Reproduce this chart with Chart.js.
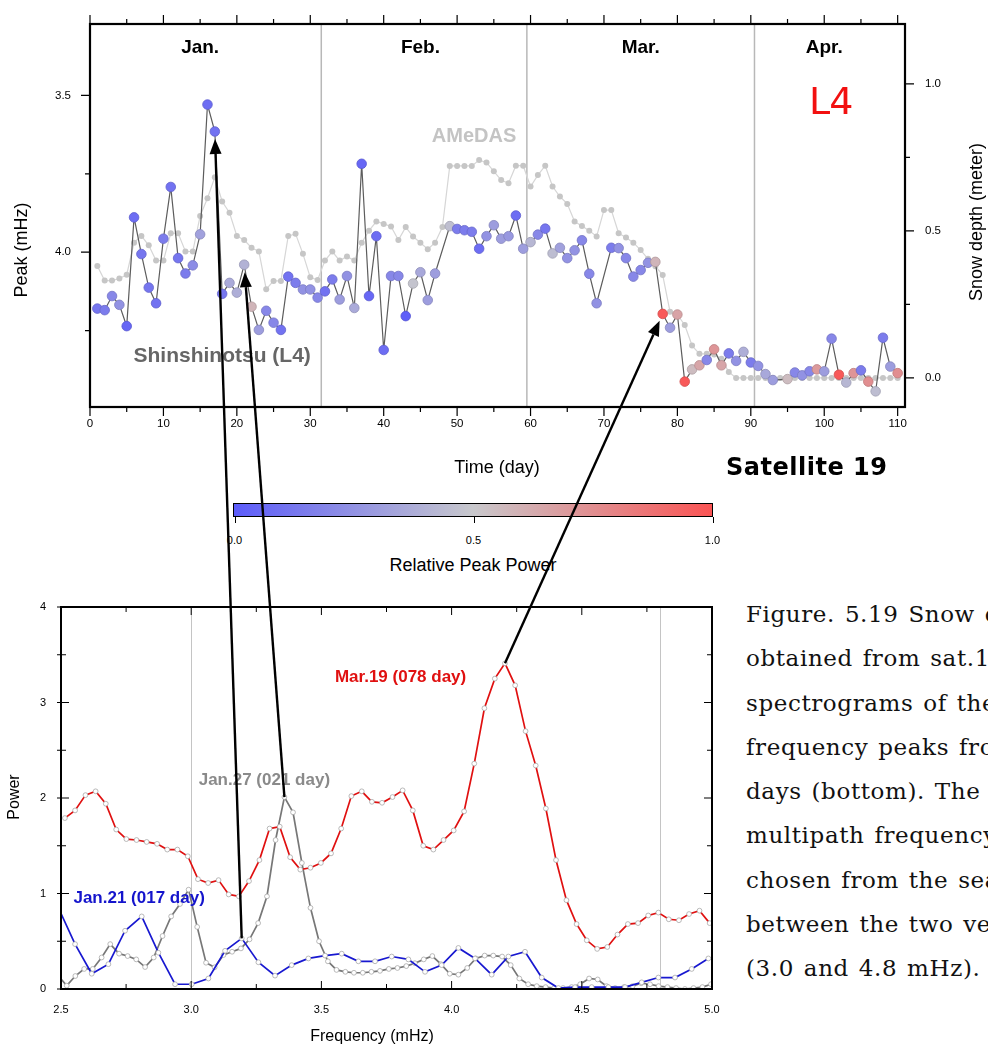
<!DOCTYPE html>
<html lang="en">
<head>
<meta charset="UTF-8">
<title>Shinshinotsu (L4) - Satellite 19</title>
<script src="https://cdn.jsdelivr.net/npm/chart.js"></script>
<style>
    body {
        margin: 0;
        background: #fff;
        font-family: 'Liberation Sans', Arial, sans-serif;
    }
    #page {
        position: relative;
        width: 988px;
        height: 1048px;
        overflow: hidden;
        background: #fff;
    }
    #snow-chart { position: absolute; left: 0; top: 0; }
    #spec-chart { position: absolute; left: 0; top: 590px; }
    #arrows { position: absolute; left: 0; top: 0; pointer-events: none; }
    .note { position: absolute; white-space: nowrap; }
    #l4 {
        left: 809px; top: 79px;
        font-family: 'DejaVu Sans', sans-serif;
        font-size: 38px;
        letter-spacing: -1px;
        color: #f21010;
    }
    #sat {
        left: 726px; top: 453px;
        font-family: 'DejaVu Sans', sans-serif;
        font-weight: bold;
        font-size: 24px;
        letter-spacing: 0.5px;
        color: #000;
    }
    #colorbar {
        position: absolute;
        left: 233px; top: 503px;
        width: 478px; height: 12px;
        border: 1.5px solid #000;
    }
    .cb-tick {
        position: absolute;
        width: 1px; height: 6px;
        background: #000;
        top: 517px;
    }
    .cb-label {
        position: absolute;
        top: 534px;
        font-size: 11px;
        transform: translateX(-50%);
    }
    #cb-title {
        position: absolute;
        left: 473px; top: 555px;
        transform: translateX(-50%);
        font-size: 18px;
        white-space: nowrap;
    }
    #caption {
        position: absolute;
        left: 746px; top: 592px;
        width: 242px;
        overflow: hidden;
        font-family: 'DejaVu Serif', 'Liberation Serif', serif;
        font-size: 23px;
        letter-spacing: 0.6px;
        word-spacing: 2px;
        line-height: 44.25px;
        color: #111;
        white-space: nowrap;
    }
</style>
</head>
<body>
<div id="page">
    <canvas id="snow-chart" width="988" height="490"></canvas>
    <canvas id="spec-chart" width="720" height="458"></canvas>

    <div class="note" id="l4">L4</div>
    <div class="note" id="sat">Satellite 19</div>

    <div id="colorbar"></div>
    <div id="cb-ticks"></div>
    <div id="cb-title">Relative Peak Power</div>

    <div id="caption">
        Figure. 5.19 Snow depth<br>
        obtained from sat.19<br>
        spectrograms of the<br>
        frequency peaks from<br>
        days (bottom). The<br>
        multipath frequency<br>
        chosen from the search<br>
        between the two vertical<br>
        (3.0 and 4.8 mHz).
    </div>

    <canvas id="arrows" width="988" height="1048"></canvas>
</div>

<script>
// ---- Top panel: multipath peak frequency (L4) and AMeDAS snow depth ----
const peakDays = [1, 2, 3, 4, 5, 6, 7, 8, 9, 10, 11, 12, 13, 14, 15, 16, 17, 18, 19, 20,
    21, 22, 23, 24, 25, 26, 27, 28, 29, 30, 31, 32, 33, 34, 35, 36, 37, 38, 39, 40,
    41, 42, 43, 44, 45, 46, 47, 49, 50, 51, 52, 53, 54, 55, 56, 57, 58, 59, 60, 61,
    62, 63, 64, 65, 66, 67, 68, 69, 71, 72, 73, 74, 75, 76, 77, 78, 79, 80, 81, 82,
    83, 84, 85, 86, 87, 88, 89, 90, 91, 92, 93, 95, 96, 97, 98, 99, 100, 101, 102, 103,
    104, 105, 106, 107, 108, 109, 110];
const peakMHz = [4.180, 4.185, 4.140, 4.168, 4.236, 3.889, 4.006, 4.113, 4.163, 3.957,
    3.792, 4.019, 4.068, 4.042, 3.943, 3.529, 3.615, 4.133, 4.098, 4.129,
    4.040, 4.174, 4.248, 4.187, 4.225, 4.248, 4.078, 4.098, 4.119, 4.119,
    4.145, 4.125, 4.087, 4.151, 4.076, 4.178, 3.718, 4.140, 3.949, 4.312,
    4.076, 4.076, 4.204, 4.100, 4.064, 4.153, 4.068, 3.917, 3.926, 3.930,
    3.935, 3.989, 3.949, 3.914, 3.957, 3.949, 3.883, 3.989, 3.968, 3.944,
    3.925, 4.004, 3.986, 4.019, 3.994, 3.962, 4.069, 4.163, 3.986, 3.987,
    4.019, 4.078, 4.057, 4.034, 4.031, 4.197, 4.241, 4.199, 4.413, 4.374,
    4.361, 4.344, 4.310, 4.361, 4.323, 4.347, 4.318, 4.352, 4.363, 4.389,
    4.408, 4.405, 4.384, 4.393, 4.380, 4.374, 4.380, 4.276, 4.391, 4.416,
    4.386, 4.377, 4.413, 4.444, 4.273, 4.365, 4.386];
// relative peak power (0 = weak / blue, 1 = strong / red)
const peakPower = [0.12, 0.15, 0.20, 0.25, 0.05, 0.08, 0.12, 0.12, 0.10, 0.15,
    0.10, 0.12, 0.15, 0.22, 0.32, 0.08, 0.10, 0.12, 0.36, 0.38,
    0.40, 0.58, 0.30, 0.20, 0.20, 0.10, 0.10, 0.15, 0.25, 0.25,
    0.20, 0.10, 0.15, 0.30, 0.25, 0.36, 0.05, 0.05, 0.08, 0.08,
    0.20, 0.20, 0.02, 0.48, 0.35, 0.30, 0.30, 0.46, 0.15, 0.15,
    0.15, 0.08, 0.25, 0.30, 0.30, 0.28, 0.08, 0.30, 0.42, 0.20,
    0.12, 0.45, 0.32, 0.25, 0.25, 0.20, 0.20, 0.25, 0.15, 0.25,
    0.20, 0.20, 0.20, 0.25, 0.58, 0.98, 0.30, 0.66, 0.98, 0.55,
    0.65, 0.20, 0.72, 0.65, 0.15, 0.25, 0.38, 0.15, 0.25, 0.35,
    0.30, 0.55, 0.20, 0.25, 0.20, 0.70, 0.30, 0.20, 0.98, 0.42,
    0.72, 0.15, 0.75, 0.45, 0.15, 0.30, 0.75];

const snowDays = [1, 2, 3, 4, 5, 6, 7, 8, 9, 10, 11, 12, 13, 14, 15, 16, 17, 18, 19, 20,
    21, 22, 23, 24, 25, 26, 27, 28, 29, 30, 31, 32, 33, 34, 35, 36, 37, 38, 39, 40,
    41, 42, 43, 44, 45, 46, 47, 48, 49, 50, 51, 52, 53, 54, 55, 56, 57, 58, 59, 60,
    61, 62, 63, 64, 65, 66, 67, 68, 69, 70, 71, 72, 73, 74, 75, 76, 77, 78, 79, 80,
    81, 82, 83, 84, 85, 86, 87, 88, 89, 90, 91, 92, 93, 94, 95, 96, 97, 98, 99, 100,
    101, 102, 103, 104, 105, 106, 107, 108, 109, 110];
const snowDepth = [0.381, 0.331, 0.331, 0.338, 0.351, 0.460, 0.483, 0.451, 0.399, 0.399,
    0.492, 0.492, 0.430, 0.430, 0.551, 0.611, 0.683, 0.600, 0.562, 0.483,
    0.469, 0.443, 0.430, 0.302, 0.330, 0.330, 0.483, 0.490, 0.422, 0.342,
    0.333, 0.399, 0.430, 0.399, 0.413, 0.399, 0.460, 0.501, 0.532, 0.524,
    0.515, 0.469, 0.513, 0.481, 0.460, 0.438, 0.460, 0.513, 0.721, 0.721,
    0.721, 0.721, 0.741, 0.733, 0.703, 0.673, 0.662, 0.722, 0.722, 0.651,
    0.690, 0.722, 0.651, 0.617, 0.592, 0.532, 0.517, 0.501, 0.481, 0.571,
    0.571, 0.492, 0.478, 0.460, 0.435, 0.405, 0.380, 0.350, 0.225, 0.215,
    0.180, 0.110, 0.082, 0.082, 0.080, 0.065, 0.020, 0.000, 0.000, 0.000,
    0.000, 0.000, 0.000, 0.000, 0.000, 0.000, 0.000, 0.000, 0.000, 0.000,
    0.000, 0.000, 0.000, 0.000, 0.000, 0.000, 0.000, 0.000, 0.000, 0.000];

const dayTicks = [0, 5, 10, 15, 20, 25, 30, 35, 40, 45, 50, 55, 60, 65, 70, 75, 80, 85, 90, 95, 100, 105, 110];
const peakTicks = [3.5, 3.75, 4.0, 4.25];
const peakTickLabels = ['3.5', '', '4.0', ''];
const snowTicks = [0, 0.25, 0.5, 0.75, 1.0];
const snowTickLabels = ['0.0', '', '0.5', '', '1.0'];

const monthNames = ['Jan.', 'Feb.', 'Mar.', 'Apr.'];
const monthCentres = [15, 45, 75, 100];
const monthEdges = [31.5, 59.5, 90.5];

// ---- Bottom panel: power spectra of three days ----
const marFreq = [2.515, 2.554, 2.594, 2.633, 2.672, 2.712, 2.751, 2.790, 2.829, 2.869,
    2.908, 2.947, 2.987, 3.026, 3.065, 3.105, 3.144, 3.183, 3.222, 3.262,
    3.301, 3.340, 3.380, 3.419, 3.458, 3.498, 3.537, 3.576, 3.615, 3.655,
    3.694, 3.733, 3.773, 3.812, 3.851, 3.891, 3.930, 3.969, 4.008, 4.048,
    4.087, 4.126, 4.166, 4.205, 4.244, 4.284, 4.323, 4.362, 4.401, 4.441,
    4.480, 4.519, 4.559, 4.598, 4.637, 4.677, 4.716, 4.755, 4.794, 4.834,
    4.873, 4.912, 4.952, 4.991];
const marPower = [1.79, 1.87, 2.03, 2.07, 1.94, 1.67, 1.57, 1.56, 1.54, 1.52,
    1.46, 1.46, 1.39, 1.15, 1.11, 1.14, 0.99, 0.97, 1.13, 1.35,
    1.68, 1.70, 1.38, 1.25, 1.27, 1.32, 1.42, 1.68, 2.02, 2.07,
    1.96, 1.95, 2.01, 2.08, 1.87, 1.50, 1.46, 1.56, 1.66, 1.86,
    2.36, 2.94, 3.25, 3.41, 3.18, 2.70, 2.34, 1.89, 1.35, 0.93,
    0.68, 0.51, 0.42, 0.44, 0.57, 0.68, 0.69, 0.77, 0.80, 0.73,
    0.72, 0.785, 0.82, 0.69];

const jan27Freq = [2.489, 2.522, 2.555, 2.589, 2.622, 2.656, 2.689, 2.723, 2.756, 2.789,
    2.823, 2.856, 2.890, 2.923, 2.957, 2.990, 3.023, 3.057, 3.090, 3.124,
    3.157, 3.191, 3.224, 3.257, 3.291, 3.324, 3.358, 3.391, 3.425, 3.458,
    3.491, 3.525, 3.558, 3.592, 3.625, 3.659, 3.692, 3.725, 3.759, 3.792,
    3.826, 3.859, 3.893, 3.926, 3.959, 3.993, 4.026, 4.060, 4.093, 4.127,
    4.160, 4.194, 4.227, 4.260, 4.294, 4.327, 4.361, 4.394, 4.428, 4.461,
    4.494, 4.528, 4.561, 4.595, 4.628, 4.662, 4.695, 4.728, 4.762, 4.795,
    4.829, 4.862, 4.896, 4.929, 4.963, 4.996];
const jan27Power = [0.14, 0.035, 0.136, 0.21, 0.21, 0.33, 0.47, 0.37, 0.345, 0.31,
    0.23, 0.33, 0.555, 0.76, 0.89, 1.04, 0.65, 0.275, 0.227, 0.356,
    0.39, 0.425, 0.52, 0.69, 0.97, 1.56, 2.01, 1.85, 1.32, 0.85,
    0.50, 0.29, 0.20, 0.18, 0.17, 0.17, 0.18, 0.19, 0.21, 0.22,
    0.24, 0.27, 0.31, 0.345, 0.26, 0.16, 0.15, 0.22, 0.32, 0.35,
    0.35, 0.34, 0.25, 0.11, 0.05, 0.03, 0.02, 0.01, 0.01, 0.02,
    0.05, 0.11, 0.10, 0.03, 0.01, 0.02, 0.03, 0.06, 0.05, 0.03,
    0.02, 0.01, 0.00, 0.01, 0.02, 0.05];

const jan21Freq = [2.490, 2.554, 2.618, 2.682, 2.746, 2.810, 2.874, 2.938, 3.002, 3.066,
    3.130, 3.194, 3.258, 3.322, 3.386, 3.450, 3.514, 3.578, 3.642, 3.706,
    3.770, 3.834, 3.898, 3.962, 4.026, 4.090, 4.154, 4.218, 4.282, 4.346,
    4.410, 4.474, 4.538, 4.602, 4.666, 4.730, 4.794, 4.858, 4.922, 4.986];
const jan21Power = [0.85, 0.47, 0.16, 0.26, 0.61, 0.76, 0.38, 0.05, 0.05, 0.11,
    0.40, 0.53, 0.28, 0.14, 0.25, 0.32, 0.35, 0.37, 0.29, 0.29,
    0.34, 0.31, 0.18, 0.25, 0.43, 0.32, 0.15, 0.34, 0.39, 0.12,
    0.01, 0.02, 0.02, 0.02, 0.02, 0.07, 0.12, 0.12, 0.21, 0.32];

const freqTicks = [2.5, 3.0, 3.5, 4.0, 4.5, 5.0];
const freqTickLabels = ['2.5', '3.0', '3.5', '4.0', '4.5', '5.0'];
const freqMinorTicks = [2.75, 3.25, 3.75, 4.25, 4.75];
const powerTicks = [0, 1, 2, 3, 4];
const powerMinorTicks = [0.5, 1.5, 2.5, 3.5];
const freqRefLines = [3.0, 4.8];

const colorTicks = [0, 0.5, 1.0];
const colorTickLabels = ['0.0', '0.5', '1.0'];

// links from a spectral peak (bottom) to its day in the time series (top)
const arrowLinks = [
    { dataset: 1, index: 11, day: 17 },   // Jan.21
    { dataset: 2, index: 26, day: 21 },   // Jan.27
    { dataset: 0, index: 43, day: 78 }    // Mar.19
];

// blue -> grey -> red colour scale for the relative peak power
const colorStops = [
    [0.0, [92, 92, 250]],
    [0.5, [200, 200, 204]],
    [1.0, [250, 84, 84]]
];
function powerRGB(v) {
    v = Math.max(0, Math.min(1, v));
    for (let i = 1; i < colorStops.length; i++) {
        const [p1, c1] = colorStops[i];
        const [p0, c0] = colorStops[i - 1];
        if (v <= p1) {
            const t = (v - p0) / (p1 - p0);
            return c0.map((c, k) => Math.round(c + (c1[k] - c) * t));
        }
    }
    return colorStops[colorStops.length - 1][1];
}
const rgb = c => `rgb(${c[0]},${c[1]},${c[2]})`;

const SANS = "'Liberation Sans', Arial, sans-serif";
const NARROW = "'Liberation Sans Narrow', 'Liberation Sans', Arial, sans-serif";

Chart.defaults.animation = false;
Chart.defaults.events = [];

// keep the plot boxes where the axes are sized, without label overflow padding
const fixedBox = size => s => {
    if (s.isHorizontal()) s.height = size; else s.width = size;
    s.paddingLeft = s.paddingRight = s.paddingTop = s.paddingBottom = 0;
};

// frame, month bands, outward ticks and captions of the time-series panel
const snowFrame = {
    id: 'snowFrame',
    beforeDatasetsDraw(chart) {
        const { ctx, chartArea: a } = chart;
        const x = chart.scales.x;
        ctx.save();
        ctx.strokeStyle = '#b8b8b8';
        ctx.lineWidth = 1.5;
        monthEdges.forEach(d => {
            const px = x.getPixelForValue(d);
            ctx.beginPath();
            ctx.moveTo(px, a.top);
            ctx.lineTo(px, a.bottom);
            ctx.stroke();
        });
        ctx.fillStyle = '#000';
        ctx.font = 'bold 19px ' + SANS;
        ctx.textAlign = 'center';
        ctx.textBaseline = 'middle';
        monthNames.forEach((m, i) => ctx.fillText(m, x.getPixelForValue(monthCentres[i]), a.top + 24));

        ctx.fillStyle = '#c4c4c4';
        ctx.font = 'bold 20px ' + SANS;
        ctx.fillText('AMeDAS', x.getPixelForValue(52.3), chart.scales.snow.getPixelForValue(0.82));
        ctx.fillStyle = '#666';
        ctx.font = 'bold 21px ' + SANS;
        ctx.fillText('Shinshinotsu (L4)', x.getPixelForValue(18), chart.scales.peak.getPixelForValue(4.331));
        ctx.restore();
    },
    afterDraw(chart) {
        const { ctx, chartArea: a } = chart;
        const { x, peak, snow } = chart.scales;
        ctx.save();
        ctx.strokeStyle = '#000';
        ctx.lineWidth = 1.2;
        ctx.beginPath();
        dayTicks.forEach(d => {
            const px = x.getPixelForValue(d);
            const len = d % 10 === 0 ? 9 : 5;
            ctx.moveTo(px, a.bottom); ctx.lineTo(px, a.bottom + len);
            ctx.moveTo(px, a.top); ctx.lineTo(px, a.top - len);
        });
        peakTicks.forEach((v, i) => {
            const py = peak.getPixelForValue(v);
            const len = peakTickLabels[i] ? 9 : 5;
            ctx.moveTo(a.left, py); ctx.lineTo(a.left - len, py);
        });
        snowTicks.forEach((v, i) => {
            const py = snow.getPixelForValue(v);
            const len = snowTickLabels[i] ? 9 : 5;
            ctx.moveTo(a.right, py); ctx.lineTo(a.right + len, py);
        });
        ctx.stroke();
        ctx.lineWidth = 2.2;
        ctx.strokeRect(a.left, a.top, a.right - a.left, a.bottom - a.top);

        ctx.fillStyle = '#000';
        ctx.font = '18px ' + SANS;
        ctx.textAlign = 'center';
        ctx.textBaseline = 'middle';
        ctx.fillText('Time (day)', 497, 468);
        ctx.translate(22, 250);
        ctx.rotate(-Math.PI / 2);
        ctx.fillText('Peak (mHz)', 0, 0);
        ctx.rotate(Math.PI / 2);
        ctx.translate(977 - 22, 222 - 250);
        ctx.rotate(-Math.PI / 2);
        ctx.fillText('Snow depth (meter)', 0, 0);
        ctx.restore();
    }
};

const snowChart = new Chart(document.getElementById('snow-chart'), {
    type: 'line',
    data: {
        datasets: [
            {
                label: 'Shinshinotsu (L4)',
                data: peakDays.map((d, i) => ({ x: d, y: peakMHz[i] })),
                yAxisID: 'peak',
                borderColor: '#5c5c5c',
                borderWidth: 1.2,
                pointRadius: 4.8,
                pointBackgroundColor: c => rgb(powerRGB(peakPower[c.dataIndex])),
                pointBorderColor: c => rgb(powerRGB(peakPower[c.dataIndex]).map(v => Math.round(v * 0.85))),
                pointBorderWidth: 0.8
            },
            {
                label: 'AMeDAS',
                data: snowDays.map((d, i) => ({ x: d, y: snowDepth[i] })),
                yAxisID: 'snow',
                borderColor: '#d6d6d6',
                borderWidth: 1.2,
                pointRadius: 3,
                pointBackgroundColor: '#c6c6c6',
                pointBorderWidth: 0
            }
        ]
    },
    options: {
        responsive: false,
        layout: { padding: { top: 24, left: 0, right: 0, bottom: 0 } },
        plugins: { legend: { display: false }, tooltip: { enabled: false } },
        scales: {
            x: {
                type: 'linear',
                min: 0,
                max: 111,
                afterBuildTicks: s => { s.ticks = dayTicks.map(v => ({ value: v })); },
                afterFit: fixedBox(83),
                grid: { display: false, drawTicks: false },
                border: { display: false },
                ticks: {
                    autoSkip: false,
                    maxRotation: 0,
                    padding: 10,
                    color: '#000',
                    font: { family: SANS, size: 11.5 },
                    callback: v => (v % 10 === 0 ? String(v) : '')
                }
            },
            peak: {
                type: 'linear',
                position: 'left',
                reverse: true,
                min: 3.272,
                max: 4.494,
                afterBuildTicks: s => { s.ticks = peakTicks.map(v => ({ value: v })); },
                afterFit: fixedBox(90),
                grid: { display: false, drawTicks: false },
                border: { display: false },
                ticks: {
                    autoSkip: false,
                    padding: 19,
                    color: '#000',
                    font: { family: SANS, size: 11.5 },
                    callback: (v, i) => peakTickLabels[i]
                }
            },
            snow: {
                type: 'linear',
                position: 'right',
                min: -0.099,
                max: 1.204,
                afterBuildTicks: s => { s.ticks = snowTicks.map(v => ({ value: v })); },
                afterFit: fixedBox(83),
                grid: { display: false, drawTicks: false },
                border: { display: false },
                ticks: {
                    autoSkip: false,
                    padding: 20,
                    color: '#000',
                    font: { family: SANS, size: 11.5 },
                    callback: (v, i) => snowTickLabels[i]
                }
            }
        }
    },
    plugins: [snowFrame]
});

// frame, inner ticks, reference lines and day captions of the spectrum panel
const specFrame = {
    id: 'specFrame',
    beforeDatasetsDraw(chart) {
        const { ctx, chartArea: a } = chart;
        const x = chart.scales.x;
        ctx.save();
        ctx.strokeStyle = '#c4c4c4';
        ctx.lineWidth = 1;
        freqRefLines.forEach(f => {
            const px = Math.round(x.getPixelForValue(f)) + 0.5;
            ctx.beginPath();
            ctx.moveTo(px, a.top);
            ctx.lineTo(px, a.bottom);
            ctx.stroke();
        });
        ctx.restore();
    },
    afterDatasetsDraw(chart) {
        const { ctx } = chart;
        const { x, y } = chart.scales;
        ctx.save();
        ctx.font = 'bold 17px ' + NARROW;
        ctx.textAlign = 'center';
        ctx.textBaseline = 'middle';
        ctx.fillStyle = '#e01010';
        ctx.fillText('Mar.19 (078 day)', x.getPixelForValue(3.804), y.getPixelForValue(3.26));
        ctx.fillStyle = '#8a8a8a';
        ctx.fillText('Jan.27 (021 day)', x.getPixelForValue(3.281), y.getPixelForValue(2.18));
        ctx.fillStyle = '#1414cc';
        ctx.fillText('Jan.21 (017 day)', x.getPixelForValue(2.80), y.getPixelForValue(0.95));
        ctx.restore();
    },
    afterDraw(chart) {
        const { ctx, chartArea: a } = chart;
        const { x, y } = chart.scales;
        ctx.save();
        ctx.strokeStyle = '#000';
        ctx.lineWidth = 1;
        ctx.beginPath();
        const vTick = (f, len) => {
            const px = x.getPixelForValue(f);
            ctx.moveTo(px, a.bottom); ctx.lineTo(px, a.bottom - len);
            ctx.moveTo(px, a.top); ctx.lineTo(px, a.top + len);
        };
        const hTick = (p, len) => {
            const py = y.getPixelForValue(p);
            ctx.moveTo(a.left, py); ctx.lineTo(a.left + len, py);
            ctx.moveTo(a.right, py); ctx.lineTo(a.right - len, py);
            ctx.moveTo(a.left, py); ctx.lineTo(a.left - 4, py);
        };
        freqTicks.forEach(f => vTick(f, 8));
        freqMinorTicks.forEach(f => vTick(f, 5));
        powerTicks.forEach(p => hTick(p, 8));
        powerMinorTicks.forEach(p => hTick(p, 5));
        ctx.stroke();
        ctx.lineWidth = 2;
        ctx.strokeRect(a.left, a.top, a.right - a.left, a.bottom - a.top);

        ctx.fillStyle = '#000';
        ctx.font = '16px ' + NARROW;
        ctx.textAlign = 'center';
        ctx.textBaseline = 'middle';
        ctx.fillText('Frequency (mHz)', 372, 447);
        ctx.translate(15, 207);
        ctx.rotate(-Math.PI / 2);
        ctx.fillText('Power', 0, 0);
        ctx.restore();
    }
};

const marker = {
    pointRadius: 2.4,
    pointBackgroundColor: '#fff',
    pointBorderColor: '#a8a8a8',
    pointBorderWidth: 0.8,
    borderWidth: 1.7
};

const specChart = new Chart(document.getElementById('spec-chart'), {
    type: 'line',
    data: {
        datasets: [
            Object.assign({
                label: 'Mar.19 (078 day)',
                data: marFreq.map((f, i) => ({ x: f, y: marPower[i] })),
                borderColor: '#e01010'
            }, marker),
            Object.assign({
                label: 'Jan.21 (017 day)',
                data: jan21Freq.map((f, i) => ({ x: f, y: jan21Power[i] })),
                borderColor: '#1818d0'
            }, marker),
            Object.assign({
                label: 'Jan.27 (021 day)',
                data: jan27Freq.map((f, i) => ({ x: f, y: jan27Power[i] })),
                borderColor: '#777'
            }, marker)
        ]
    },
    options: {
        responsive: false,
        layout: { padding: { top: 17, right: 8, left: 0, bottom: 0 } },
        plugins: { legend: { display: false }, tooltip: { enabled: false } },
        scales: {
            x: {
                type: 'linear',
                min: 2.5,
                max: 5.0,
                afterBuildTicks: s => { s.ticks = freqTicks.map(v => ({ value: v })); },
                afterFit: fixedBox(59),
                grid: { display: false, drawTicks: false },
                border: { display: false },
                ticks: {
                    autoSkip: false,
                    maxRotation: 0,
                    padding: 14,
                    color: '#000',
                    font: { family: NARROW, size: 11 },
                    callback: (v, i) => freqTickLabels[i]
                }
            },
            y: {
                type: 'linear',
                min: 0,
                max: 4,
                afterBuildTicks: s => { s.ticks = powerTicks.map(v => ({ value: v })); },
                afterFit: fixedBox(61),
                grid: { display: false, drawTicks: false },
                border: { display: false },
                ticks: {
                    autoSkip: false,
                    padding: 15,
                    color: '#000',
                    font: { family: NARROW, size: 11 },
                    callback: v => String(v)
                }
            }
        }
    },
    plugins: [specFrame]
});

// colour bar under the time-series panel
(function buildColorBar() {
    const bar = document.getElementById('colorbar');
    bar.style.background = 'linear-gradient(to right, ' +
        colorStops.map(([p, c]) => `${rgb(c)} ${p * 100}%`).join(', ') + ')';
    const holder = document.getElementById('cb-ticks');
    const left = 234.5, width = 478;
    colorTicks.forEach((v, i) => {
        const px = left + v * width;
        const t = document.createElement('div');
        t.className = 'cb-tick';
        t.style.left = px + 'px';
        holder.appendChild(t);
        const l = document.createElement('div');
        l.className = 'cb-label';
        l.style.left = px + 'px';
        l.textContent = colorTickLabels[i];
        holder.appendChild(l);
    });
})();

// arrows joining the spectral peaks to their days
(function drawArrows() {
    const ctx = document.getElementById('arrows').getContext('2d');
    const specTop = 590;
    ctx.strokeStyle = '#000';
    ctx.fillStyle = '#000';
    ctx.lineWidth = 2.4;
    arrowLinks.forEach(link => {
        const from = specChart.getDatasetMeta(link.dataset).data[link.index];
        const to = snowChart.getDatasetMeta(0).data[peakDays.indexOf(link.day)];
        const x0 = from.x, y0 = from.y + specTop;
        const ang = Math.atan2(to.y - y0, to.x - x0);
        const tipX = to.x - Math.cos(ang) * 7.5;
        const tipY = to.y - Math.sin(ang) * 7.5;
        const headLen = 15, headW = 6;
        const bx = tipX - Math.cos(ang) * headLen;
        const by = tipY - Math.sin(ang) * headLen;
        ctx.beginPath();
        ctx.moveTo(x0, y0);
        ctx.lineTo(bx, by);
        ctx.stroke();
        ctx.beginPath();
        ctx.moveTo(tipX, tipY);
        ctx.lineTo(bx + Math.sin(ang) * headW, by - Math.cos(ang) * headW);
        ctx.lineTo(bx - Math.sin(ang) * headW, by + Math.cos(ang) * headW);
        ctx.closePath();
        ctx.fill();
    });
})();
</script>
</body>
</html>
